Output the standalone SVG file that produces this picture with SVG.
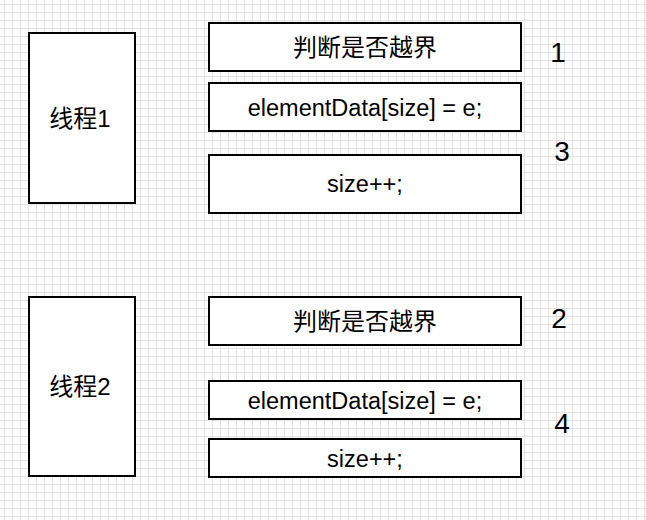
<svg xmlns="http://www.w3.org/2000/svg" width="646" height="520" viewBox="0 0 646 520">
<style>
.box{fill:#ffffff;stroke:#000000;stroke-width:2}
.t{font-family:"Liberation Sans","Noto Sans CJK SC",sans-serif;font-size:24px;fill:#000;text-anchor:middle}
.l{font-size:23.5px}
.n{font-family:"Liberation Sans",sans-serif;font-size:28px;fill:#000;text-anchor:middle}
</style>
<defs>
<pattern id="grid" x="0" y="0" width="8" height="8" patternUnits="userSpaceOnUse">
<path d="M4.5 0V8M0 4.5H8" stroke="#e2e2e2" stroke-width="1" fill="none"/>
</pattern>
</defs>
<rect x="0" y="0" width="646" height="520" fill="#ffffff"/>
<rect x="0" y="0" width="646" height="520" fill="url(#grid)"/>
<g id="connectors"></g>
<g id="thread1"><rect class="box" x="29" y="33" width="106" height="170"/><text class="t" x="80" y="127">线程1</text></g>
<g id="t1-check"><rect class="box" x="209" y="23" width="312" height="48"/><text class="t" x="365" y="56">判断是否越界</text></g>
<g id="t1-assign"><rect class="box" x="209" y="83" width="312" height="48"/><text class="t l" x="365" y="116">elementData[size] = e;</text></g>
<g id="t1-inc"><rect class="box" x="209" y="155" width="312" height="58"/><text class="t l" x="365" y="192">size++;</text></g>
<g id="thread2"><rect class="box" x="29" y="297" width="106" height="179"/><text class="t" x="80" y="395">线程2</text></g>
<g id="t2-check"><rect class="box" x="209" y="297" width="312" height="48"/><text class="t" x="365" y="330">判断是否越界</text></g>
<g id="t2-assign"><rect class="box" x="209" y="381" width="312" height="38"/><text class="t l" x="365" y="409">elementData[size] = e;</text></g>
<g id="t2-inc"><rect class="box" x="209" y="439" width="312" height="38"/><text class="t l" x="365" y="467">size++;</text></g>
<g id="n1"><text class="n" x="558" y="62">1</text></g>
<g id="n3"><text class="n" x="562" y="161">3</text></g>
<g id="n2"><text class="n" x="559" y="328">2</text></g>
<g id="n4"><text class="n" x="562" y="433">4</text></g>
</svg>
